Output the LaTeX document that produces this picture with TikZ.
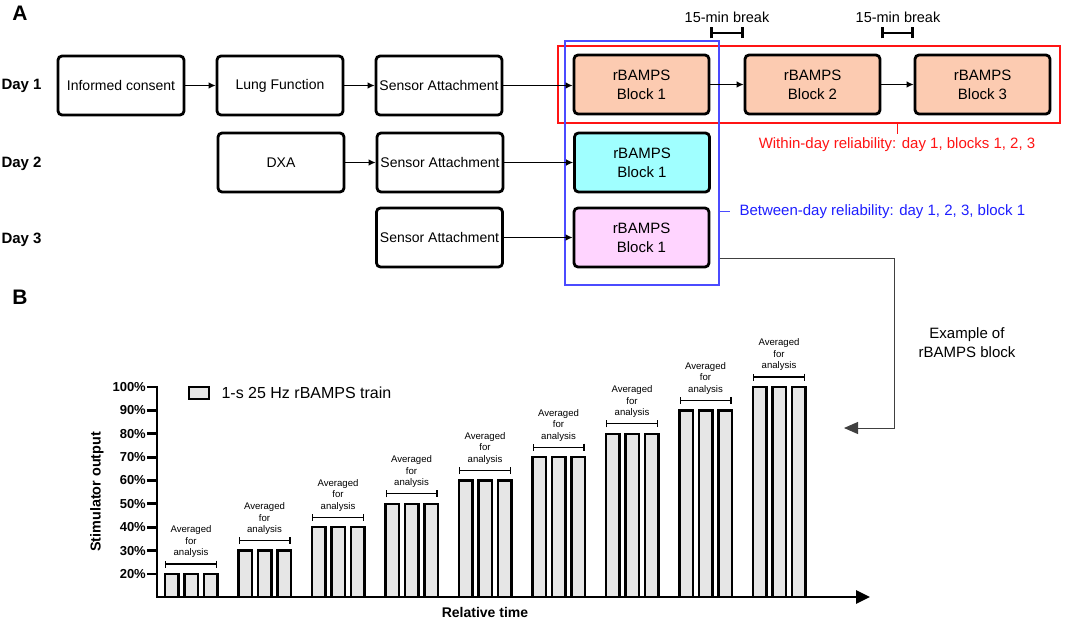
\documentclass[tikz,border=0pt]{standalone}
\usepackage{fontspec}
\setmainfont{Liberation Sans}
\usetikzlibrary{arrows.meta}
\definecolor{dayonefill}{RGB}{252,203,177}
\definecolor{daytwofill}{RGB}{160,255,255}
\definecolor{daythreefill}{RGB}{255,212,255}
\definecolor{withinred}{RGB}{255,20,20}
\definecolor{betweenblue}{RGB}{30,30,255}
\definecolor{barfill}{RGB}{230,230,230}
\begin{document}
\begin{tikzpicture}[x=1pt,y=-1pt,
	procbox/.style={draw,line width=2.8pt,rounded corners=4pt,minimum width=126pt,minimum height=59pt,inner sep=1pt,font=\fontsize{14}{17}\selectfont},
	blockbox/.style={procbox,minimum width=135pt,align=center,font=\fontsize{15}{19}\selectfont},
	flow/.style={line width=1pt,-{Latex[length=7pt,width=6.5pt]}},
	daylabel/.style={anchor=west,font=\bfseries\fontsize{15}{18}\selectfont},
	breakbar/.style={line width=2.6pt,{Bar[width=11pt]}-{Bar[width=11pt]}},
	axisline/.style={line width=2.8pt},
	stimbar/.style={draw,line width=2.4pt,fill=barfill},
	avgbrace/.style={line width=1.1pt,{Bar[width=7pt]}-{Bar[width=7pt]}},
	avglbl/.style={align=center,inner sep=0pt,font=\fontsize{9.6}{11.5}\selectfont},
	ticklbl/.style={anchor=east,inner sep=0pt,font=\bfseries\fontsize{13}{15}\selectfont}]
	\useasboundingbox (0,0) rectangle (1065,620);
	% panel letters
		\node[font=\bfseries\fontsize{21}{24}\selectfont] (panelA) at (20,13) {A};
		\node[font=\bfseries\fontsize{21}{24}\selectfont] (panelB) at (20,297) {B};
	% day labels
		\node[daylabel] (day1) at (-2,86) {Day 1};
		\node[daylabel] (day2) at (-2,164) {Day 2};
		\node[daylabel] (day3) at (-2,240) {Day 3};
	% reliability frames
		\node[draw=withinred,line width=1.2pt,minimum width=502pt,minimum height=77pt] (within) at (809,84.5) {};
		\node[draw=betweenblue!80,line width=1.2pt,minimum width=154pt,minimum height=244pt] (between) at (642,163) {};
	% day 1
		\node[procbox] (consent) at (121,85.5) {Informed consent};
		\node[procbox] (lung) at (280,85.5) {Lung Function};
		\node[procbox] (sa1) at (439,85.5) {Sensor Attachment};
		\node[blockbox,fill=dayonefill] (b11) at (641.5,84.5) {rBAMPS\\Block 1};
		\node[blockbox,fill=dayonefill] (b12) at (812.5,84.5) {rBAMPS\\Block 2};
		\node[blockbox,fill=dayonefill] (b13) at (982.5,84.5) {rBAMPS\\Block 3};
		\draw[flow] (consent) -- (lung);
		\draw[flow] (lung) -- (sa1);
		\draw[flow] (sa1.east) -- (sa1.east -| b11.west);
		\draw[flow] (b11) -- (b12);
		\draw[flow] (b12) -- (b13);
	% breaks
		\node[font=\fontsize{14.5}{17}\selectfont] (brk1) at (727,17) {15-min break};
		\node[font=\fontsize{14.5}{17}\selectfont] (brk2) at (898,17) {15-min break};
		\draw[breakbar] (b11.east |- 0,33) -- (b12.west |- 0,33);
		\draw[breakbar] (b12.east |- 0,33) -- (b13.west |- 0,33);
	% day 2
		\node[procbox] (dxa) at (281,162.5) {DXA};
		\node[procbox] (sa2) at (440,162.5) {Sensor Attachment};
		\node[blockbox,fill=daytwofill] (b21) at (642,162.5) {rBAMPS\\Block 1};
		\draw[flow] (dxa) -- (sa2);
		\draw[flow] (sa2) -- (b21);
	% day 3
		\node[procbox] (sa3) at (439.5,237.5) {Sensor Attachment};
		\node[blockbox,fill=daythreefill] (b31) at (641.5,237.5) {rBAMPS\\Block 1};
		\draw[flow] (sa3) -- (b31);
	% reliability labels
		\node[text=withinred,font=\fontsize{15}{18}\selectfont] (withinlbl) at (897,145) {Within-day reliability: day 1, blocks 1, 2, 3};
		\draw[withinred,line width=1pt] (within.south -| withinlbl.north) -- ++(0,10);
		\node[text=betweenblue,anchor=west,font=\fontsize{15}{18}\selectfont] (betweenlbl) at (736,212) {Between-day reliability: day 1, 2, 3, block 1};
		\draw[betweenblue!80,line width=1pt] (between.east |- betweenlbl.west) -- ++(10,0);
	% link to panel B
		\coordinate (turn) at (894,428);
		\coordinate (exampletip) at (844,428);
		\node[align=center,font=\fontsize{15}{19}\selectfont] (example) at (967,343) {Example of\\rBAMPS block};
		\draw[line width=1pt,black!75,-{Triangle[length=14pt,width=12pt]}] ([yshift=-96pt]between.east) -| (turn) -- (exampletip);
	% panel B bars
		\foreach \g in {0,...,8} {
			\pgfmathsetmacro\gx{165+73.5*\g}
			\pgfmathsetmacro\gy{574-23.375*\g}
			\foreach \b in {0,1,2}
				\draw[stimbar] (\gx+19.5*\b,597) rectangle (\gx+19.5*\b+13.5,\gy);
			\draw[avgbrace] (\gx,\gy-10) -- (\gx+52,\gy-10);
			\node[avglbl] (avg\g) at (\gx+26,\gy-32) {Averaged\\for\\analysis};
		}
	% axes
		\coordinate (ytop) at (157,386);
		\coordinate (origin) at (157,597);
		\coordinate (xend) at (870,597);
		\draw[axisline,-{Triangle[length=14pt,width=13pt]}] (ytop) -- (origin) -- (xend);
		\foreach \v in {20,30,...,100} {
			\pgfmathsetmacro\ty{574-(\v-20)*2.3375}
			\draw[axisline] (147,\ty) -- (157,\ty);
			\node[ticklbl] (tick\v) at (146,\ty) {\v\%};
		}
		\node[rotate=90,font=\bfseries\fontsize{14.4}{17}\selectfont] (ylbl) at (97,492) {Stimulator output};
		\node[font=\bfseries\fontsize{14}{17}\selectfont] (xlbl) at (485,612) {Relative time};
	% legend
		\draw[stimbar] (189,387) rectangle (209,399);
		\node[anchor=west,font=\fontsize{16}{19}\selectfont] (legend) at (218,393) {1-s 25 Hz rBAMPS train};
\end{tikzpicture}
\end{document}
